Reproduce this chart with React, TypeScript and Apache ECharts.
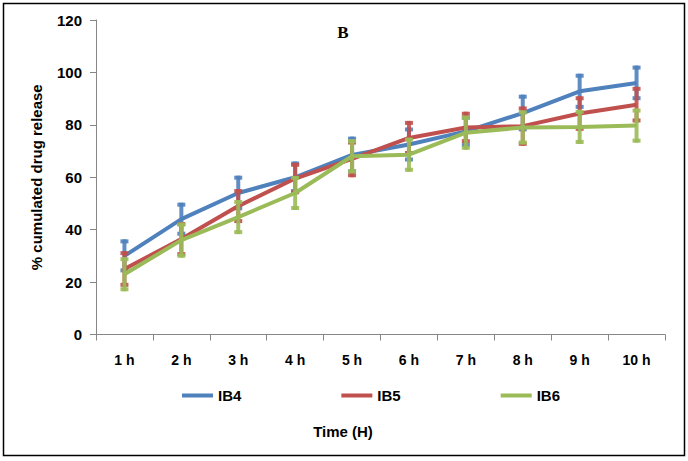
import React, { useEffect, useRef } from "react";
import * as echarts from "echarts";

const categories = ["1 h", "2 h", "3 h", "4 h", "5 h", "6 h", "7 h", "8 h", "9 h", "10 h"];
const yTicks = [0, 20, 40, 60, 80, 100, 120];
const ib4 = [30, 44, 54, 60, 68.5, 72.5, 77.5, 84.5, 92.8, 96];
const ib5 = [25, 36.4, 49, 59.5, 67, 75, 79, 79.5, 84.3, 87.7];
const ib6 = [23, 36, 44.8, 54, 68, 68.6, 77, 79, 79.2, 79.7];
const ib4Err = [6.3, 6.3, 6.6, 6, 7, 6.5, 6, 7, 6.7, 6.6];
const ib5Err = [6.8, 6.5, 6.5, 6, 7, 6.5, 6, 7.5, 6.6, 6.8];
const ib6Err = [6.5, 6.7, 6.5, 6.5, 6.5, 6.5, 6.5, 6.5, 6.5, 6.5];
const seriesNames = ["IB4", "IB5", "IB6"];
const colors = ["#4F81BD", "#C0504D", "#9BBB59"];

export default function App() {
  const ref = useRef<HTMLDivElement>(null);
  useEffect(() => {
    if (!ref.current) return;
    const chart = echarts.init(ref.current, null, { renderer: "svg" });
    const means = [ib4, ib5, ib6];
    const errs = [ib4Err, ib5Err, ib6Err];
    const series: any[] = [];
    means.forEach((m, si) => {
      series.push({
        name: seriesNames[si],
        type: "line",
        data: m,
        symbol: "none",
        lineStyle: { width: 4, color: colors[si] },
        itemStyle: { color: colors[si] },
        z: 2 + si * 2,
      });
      series.push({
        name: seriesNames[si] + " err",
        type: "custom",
        z: 3 + si * 2,
        data: m.map((v, i) => [i, v - errs[si][i], v + errs[si][i]]),
        encode: { x: 0, y: [1, 2] },
        renderItem: (params: any, api: any) => {
          const i = api.value(0);
          const lo = api.coord([i, api.value(1)]);
          const hi = api.coord([i, api.value(2)]);
          const c = colors[si];
          return {
            type: "group",
            children: [
              {
                type: "line",
                shape: { x1: hi[0], y1: hi[1], x2: lo[0], y2: lo[1] },
                style: { stroke: c, lineWidth: 4, opacity: 0.9 },
              },
              {
                type: "rect",
                shape: { x: hi[0] - 4, y: hi[1], width: 8, height: 4 },
                style: { fill: c, opacity: 0.9 },
              },
              {
                type: "rect",
                shape: { x: lo[0] - 4, y: lo[1] - 4, width: 8, height: 4 },
                style: { fill: c, opacity: 0.9 },
              },
            ],
          };
        },
      });
    });
    chart.setOption({
      animation: false,
      backgroundColor: "#ffffff",
      grid: { left: 96, right: 23, top: 20, bottom: 126.5, containLabel: false },
      legend: {
        data: seriesNames,
        left: 177,
        top: 383,
        itemWidth: 31,
        itemHeight: 4,
        itemGap: 100,
        icon: "rect",
        textStyle: { fontFamily: "Liberation Sans, Arial", fontWeight: "bold", fontSize: 15, color: "#000" },
      },
      xAxis: {
        type: "category",
        data: categories,
        boundaryGap: true,
        axisLine: { lineStyle: { color: "#868686", width: 1 } },
        axisTick: { show: true, length: 6, lineStyle: { color: "#868686" } },
        axisLabel: {
          margin: 18,
          color: "#000",
          fontFamily: "Liberation Sans, Arial",
          fontWeight: "bold",
          fontSize: 14,
        },
        splitLine: { show: false },
      },
      yAxis: {
        type: "value",
        min: yTicks[0],
        max: yTicks[yTicks.length - 1],
        interval: 20,
        name: "% cumulated drug release",
        nameLocation: "middle",
        nameGap: 52,
        nameTextStyle: { fontFamily: "Liberation Sans, Arial", fontWeight: "bold", fontSize: 15, color: "#000" },
        axisLine: { show: true, lineStyle: { color: "#868686", width: 1 } },
        axisTick: { show: true, length: 6, lineStyle: { color: "#868686" } },
        axisLabel: {
          margin: 14,
          color: "#000",
          fontFamily: "Liberation Sans, Arial",
          fontWeight: "bold",
          fontSize: 15,
        },
        splitLine: { show: false },
      },
      graphic: [
        {
          type: "rect",
          shape: { x: 3.5, y: 3.5, width: 681, height: 452 },
          style: { fill: "none", stroke: "#000", lineWidth: 1.5 },
          silent: true,
          z: 100,
        },
        {
          type: "text",
          x: 343,
          y: 32,
          style: {
            text: "B",
            fontFamily: "Liberation Serif, Times New Roman",
            fontWeight: "bold",
            fontSize: 17,
            fill: "#000",
            align: "center",
            verticalAlign: "middle",
          },
        },
        {
          type: "text",
          x: 343,
          y: 431,
          style: {
            text: "Time (H)",
            fontFamily: "Liberation Sans, Arial",
            fontWeight: "bold",
            fontSize: 15,
            fill: "#000",
            align: "center",
            verticalAlign: "middle",
          },
        },
      ],
      series,
    });
    return () => chart.dispose();
  }, []);
  return (
    <div
      ref={ref}
      style={{ position: "fixed", left: 0, top: 0, width: 688, height: 461, background: "#fff" }}
    />
  );
}
